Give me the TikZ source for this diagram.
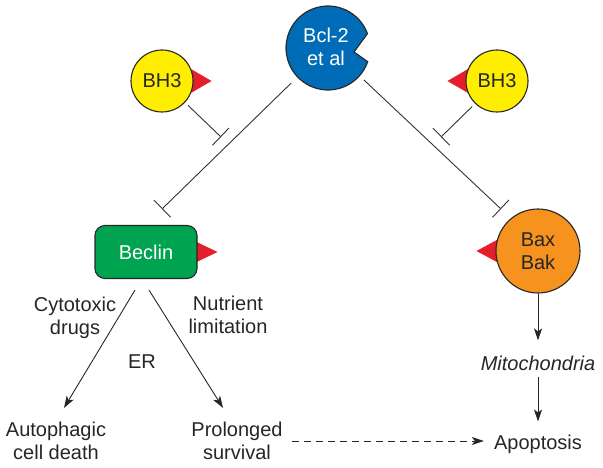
\documentclass[tikz,border=0pt]{standalone}
\usepackage{xcolor}
\usepackage{fontspec}
\setmainfont{Liberation Sans}
\usepackage{tikz}
\usetikzlibrary{positioning}
\usetikzlibrary{arrows.meta,calc,backgrounds}
\definecolor{bclblue}{RGB}{0,107,182}
\definecolor{bhyellow}{RGB}{255,238,0}
\definecolor{beakred}{RGB}{228,30,42}
\definecolor{becgreen}{RGB}{0,163,80}
\definecolor{baxorange}{RGB}{246,146,30}
\tikzset{inhib/.style = {-{Bar[width=24pt]}, draw=black!80, line width=0.9pt}}
\tikzset{act/.style = {-{Stealth[length=12pt,width=8pt,inset=3pt]}, draw=black!85, line width=0.9pt}}

\begin{document}
\begin{tikzpicture}[x=1pt,y=-1pt,every node/.style={font=\fontsize{20}{23}\selectfont,align=center,inner sep=3pt,text=black!85},
                    protein/.style={circle,draw=black!85,line width=1.1pt},
                    beak/.style={fill=beakred}]
                    \useasboundingbox (0,0) rectangle (603,468);

                    \node[circle,minimum size=100pt,text=white] (bcl) at (326,47) {Bcl-2\\et al};
                    \node[protein,fill=bhyellow,minimum size=62pt] (bhl) at (162,81) {BH3};
                    \node[protein,fill=bhyellow,minimum size=62pt] (bhr) at (497,81) {BH3};
                    \node[rectangle,rounded corners=10pt,draw=black!85,line width=1.1pt,fill=becgreen,text=white,minimum width=102pt,minimum height=53pt] (beclin) at (146,252) {Beclin};
                    \node[protein,fill=baxorange,minimum size=84pt] (bax) at (538,251) {Bax\\Bak};

                    \node (cyto) at (75,318) {Cytotoxic\\drugs};
                    \node (nutr) at (228,315) {Nutrient\\limitation};
                    \node (er) at (142,362) {ER};
                    \node (auto) at (56,441) {Autophagic\\cell death};
                    \node (prol) at (237,441) {Prolonged\\survival};
                    \node[font=\fontsize{20}{23}\selectfont\itshape] (mito) at (538,363) {Mitochondria};
                    \node (apop) at (538,444) {Apoptosis};

                    \coordinate (lstop) at (162,209);
                    \coordinate (rstop) at (501,209);
                    \coordinate (lblk) at (221,137);
                    \coordinate (rblk) at (441,137);

                    \begin{scope}[on background layer]
                    \draw[fill=bclblue,draw=black!85,line width=1.1pt] ($(bcl.center)+(2pt,-1pt)$) ++(20:42pt) arc[start angle=20,end angle=341,radius=42pt] -- ($(bcl.center)+(28pt,-5pt)$) -- cycle;
                    \fill[beak] (bhl.22) -- ([xshift=18pt]bhl.east) -- (bhl.-22) -- cycle;
                    \fill[beak] (bhr.158) -- ([xshift=-18pt]bhr.west) -- (bhr.202) -- cycle;
                    \fill[beak] ([xshift=-3pt,yshift=11pt]beclin.east) -- ([xshift=20pt]beclin.east) -- ([xshift=-3pt,yshift=-11pt]beclin.east) -- cycle;
                    \fill[beak] (bax.165) -- ([xshift=-19pt]bax.west) -- (bax.195) -- cycle;
                    \end{scope}

                    \draw[inhib] (bcl.226) -- (lstop);
                    \draw[inhib] (bcl.-41) -- (rstop);
                    \draw[inhib,shorten <=4pt] (bhl.-43) -- (lblk);
                    \draw[inhib,shorten <=4pt] (bhr.226) -- (rblk);

                    \draw[act] ([xshift=-11pt,yshift=-11pt]beclin.south) -- ([xshift=8pt,yshift=11pt]auto.north);
                    \draw[act] ([xshift=3pt,yshift=-11pt]beclin.south) -- ([xshift=-14pt,yshift=11pt]prol.north);
                    \draw[act,shorten >=12pt] (bax) -- (mito);
                    \draw[act,shorten <=3pt,shorten >=10pt] (mito) -- (apop);
                    \draw[act,dash pattern=on 7pt off 5pt,shorten <=6pt,shorten >=7pt] (prol.east) -- (prol.east -| apop.west);
                \end{tikzpicture}
\end{document}
